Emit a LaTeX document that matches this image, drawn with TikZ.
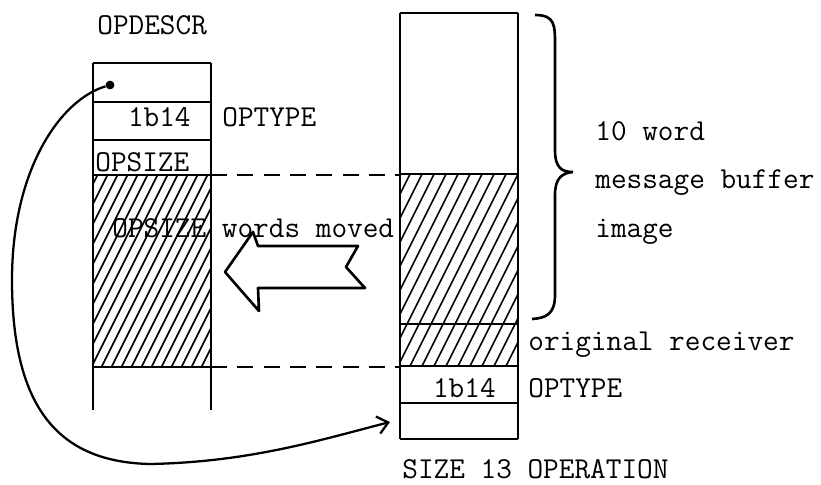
\documentclass[tikz,border=0pt]{standalone}
\usetikzlibrary{arrows.meta, positioning, calc}

\begin{document}
\begin{tikzpicture}[x=0.02cm, y=-0.02cm,
    lbl/.style={inner sep=0, anchor=base west, font=\ttfamily\fontsize{17.3}{20}\selectfont},
    wall/.style={line width=1.6pt},
    rowline/.style={line width=0.8pt},
    hatch/.style={line width=0.9pt},
    gap/.style={line width=0.8pt, dash pattern=on 9pt off 6pt}
  ]
  \useasboundingbox (0,0) rectangle (821,484);

  % OPDESCR block
  \begin{scope}
    \clip (93,175) rectangle (211,367);
    \foreach \x in {-20,-10,...,220}
      \draw[hatch] (\x,370) -- ++(100,-200);
  \end{scope}
  \draw[wall] (93,410) -- (93,63) (211,63) -- (211,410);
  \foreach \y in {63,102,140,175,367}
    \draw[rowline] (93,\y) -- (211,\y);

  % operation block
  \begin{scope}
    \clip (400,174) rectangle (518,366);
    \foreach \x in {300,312,...,530}
      \draw[hatch] (\x,370) -- ++(100,-200);
  \end{scope}
  \draw[wall] (400,13) -- (400,439) (518,13) -- (518,439);
  \foreach \y in {13,174,324,366,403,439}
    \draw[rowline] (400,\y) -- (518,\y);

  \draw[gap] (211,175) -- (400,175);
  \draw[gap] (211,367) -- (400,367);

  % labels
  \node[lbl] (descr) at (97,34) {OPDESCR};
  \node[lbl, anchor=base east] (ltype) at (191,126) {1b14};
  \node[lbl] (ltypename) at (222,126) {OPTYPE};
  \node[lbl] (lsize) at (95,171) {OPSIZE};
  \node[lbl] (moved) at (112,237) {OPSIZE words moved};
  \node[lbl] (buf1) at (595,140) {10 word};
  \node[lbl] (buf2) at (595,188) {message buffer};
  \node[lbl] (buf3) at (595,237) {image};
  \node[lbl] (recv) at (528,350) {original receiver};
  \node[lbl, anchor=base east] (rtype) at (496,397) {1b14};
  \node[lbl] (rtypename) at (528,397) {OPTYPE};
  \node[lbl] (opname) at (402,478) {SIZE 13 OPERATION};

  % brace
  \draw[line width=1.5pt] (535,15) .. controls (555,15) and (555,25) .. (555,45)
    -- (555,150) .. controls (555,168) and (562,172) .. (573,172)
    .. controls (562,173) and (555,178) .. (555,195)
    -- (555,295) .. controls (555,315) and (545,318) .. (532,319);

  % move arrow
  \draw[line width=1.5pt, line join=round] (258,246) -- (253,232) -- (225,272)
    -- (259,311) -- (258,288) -- (365,288) -- (346,267) -- (358,246) -- cycle;

  % pointer
  \node[circle, fill, inner sep=0, minimum size=5pt] (ptr) at (110,85) {};
  \coordinate (tgt) at (390,422);
  \draw[line width=1.3pt, -{Straight Barb[length=6pt, width=10pt]}] (ptr)
    .. controls (60,100) and (12,170) .. (12,280)
    .. controls (12,410) and (60,462) .. (150,464)
    .. controls (250,462) and (320,440) .. (tgt);
\end{tikzpicture}
\end{document}
